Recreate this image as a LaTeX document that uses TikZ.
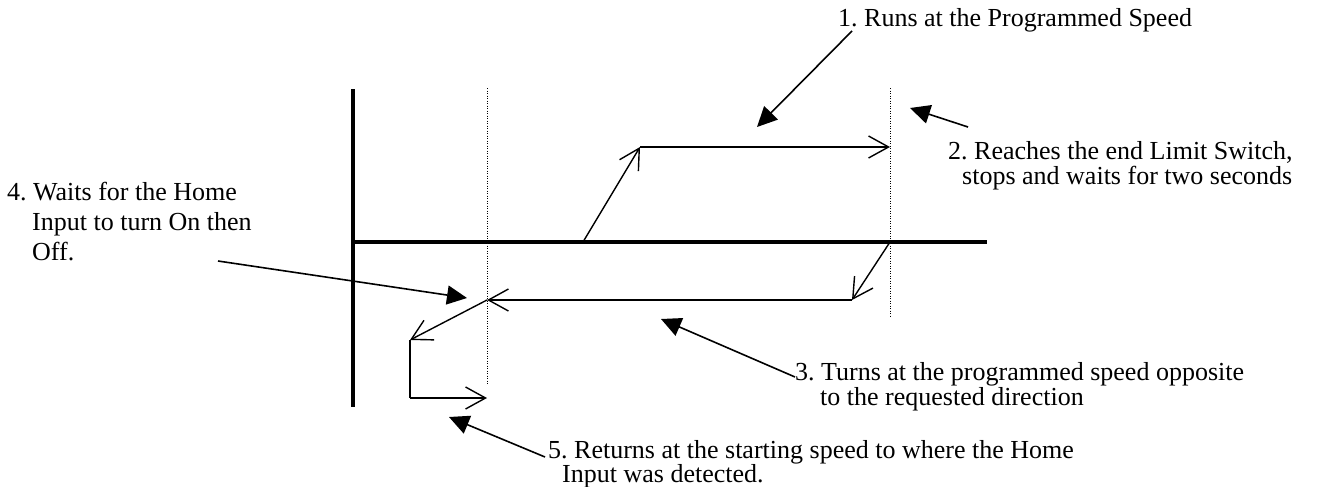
\documentclass[tikz,border=0pt]{standalone}
\usepackage{fontspec}
\setmainfont{Liberation Serif}
\usetikzlibrary{arrows.meta}
\frenchspacing
\begin{document}
\begin{tikzpicture}[x=1pt,y=-1pt,
  axis/.style={line width=3.5pt},
  guide/.style={line width=1pt,dash pattern=on 1pt off 1.5pt},
  motion/.style={line width=1.4pt,-{Straight Barb[length=20pt,width=22pt,line width=1.4pt]}},
  callout/.style={line width=1.6pt,-{Triangle[length=20pt,width=19pt]}},
  lbl/.style={anchor=base west,inner sep=0pt,font=\fontsize{26}{30}\selectfont}]
\useasboundingbox (0,0) rectangle (1325,487);
% axes
\coordinate (vtop) at (353,89);
\coordinate (vbot) at (353,407);
\coordinate (horg) at (351,242);
\coordinate (hend) at (987,242);
\draw[axis] (vtop) -- (vbot);
\draw[axis] (horg) -- (hend);
% dotted guides
\coordinate (g1t) at (487,88); \coordinate (g1b) at (487,385);
\coordinate (g2t) at (890,88); \coordinate (g2b) at (890,318);
\draw[guide] (g1t) -- (g1b);
\draw[guide] (g2t) -- (g2b);
% motion profile
\coordinate (p0) at (583,242);
\coordinate (p1) at (640,147);
\coordinate (p2) at (890,147);
\coordinate (p3) at (890,242);
\coordinate (p4) at (852,300);
\coordinate (p5) at (487,300);
\coordinate (p6) at (410,340);
\coordinate (p7) at (410,398);
\coordinate (p8) at (487,398);
\draw[motion] (p0) -- (p1);
\draw[motion] (p1) -- (p2);
\draw[motion] (p3) -- (p4);
\draw[motion] (p4) -- (p5);
\draw[motion] (p5) -- (p6);
\draw[line width=1.4pt] (p6) -- (p7);
\draw[motion] (p7) -- (p8);
% labels
\node[lbl] (t1) at (838,27) {1. Runs at the Programmed Speed};
\node[lbl] (t2a) at (948,159) {2. Reaches the end Limit Switch,};
\node[lbl] (t2b) at (962,184) {stops and waits for two seconds};
\node[lbl] (t3a) at (795,380) {3. Turns at the programmed speed opposite};
\node[lbl] (t3b) at (820,405) {to the requested direction};
\node[lbl] (t4a) at (7,200) {4. Waits for the Home};
\node[lbl] (t4b) at (32,230) {Input to turn On then};
\node[lbl] (t4c) at (32,260) {Off.};
\node[lbl] (t5a) at (548,458) {5. Returns at the starting speed to where the Home};
\node[lbl] (t5b) at (562,482) {Input was detected.};
% callout arrows
\coordinate (c1s) at (852,31);  \coordinate (c1e) at (757,127);
\coordinate (c2s) at (968,127); \coordinate (c2e) at (910,108);
\coordinate (c3s) at (795,377); \coordinate (c3e) at (661,319);
\coordinate (c4s) at (218,261); \coordinate (c4e) at (467,298);
\coordinate (c5s) at (545,457); \coordinate (c5e) at (449,417);
\draw[callout] (c1s) -- (c1e);
\draw[callout] (c2s) -- (c2e);
\draw[callout] (c3s) -- (c3e);
\draw[callout] (c4s) -- (c4e);
\draw[callout] (c5s) -- (c5e);
\end{tikzpicture}
\end{document}
